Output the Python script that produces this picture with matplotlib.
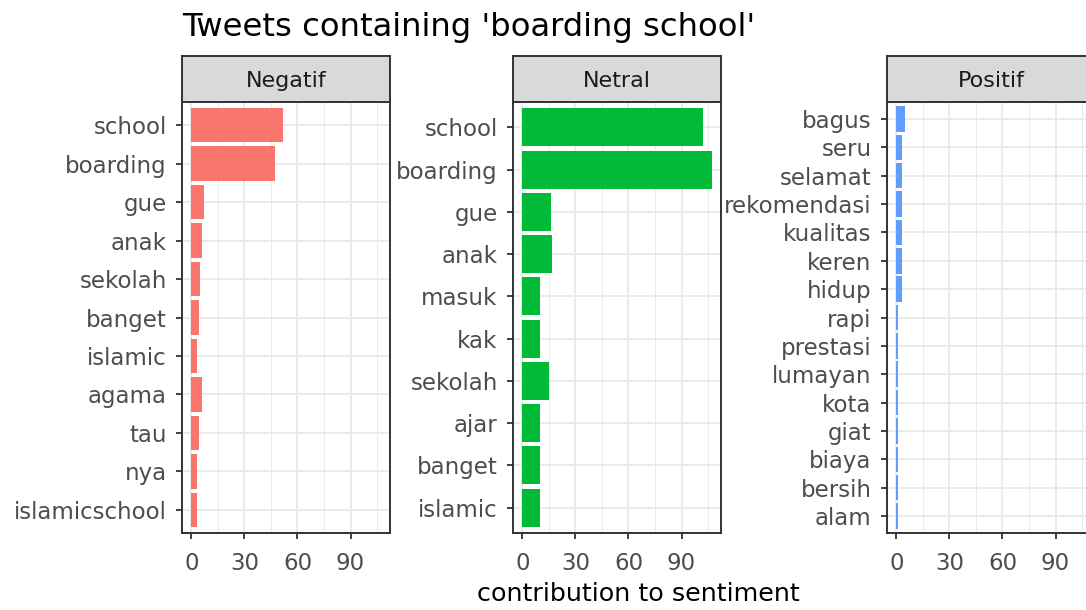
import numpy as np
import matplotlib
matplotlib.use("Agg")
import matplotlib.pyplot as plt
from matplotlib.ticker import MultipleLocator

# word counts per sentiment (top to bottom as shown)
neg_words = ["school", "boarding", "gue", "anak", "sekolah", "banget",
             "islamic", "agama", "tau", "nya", "islamicschool"]
neg_values = [52, 47, 7, 6, 5, 4, 3, 6, 4, 3, 3]

net_words = ["school", "boarding", "gue", "anak", "masuk", "kak",
             "sekolah", "ajar", "banget", "islamic"]
net_values = [102, 107, 16, 17, 10, 10, 15, 10, 10, 10]

pos_words = ["bagus", "seru", "selamat", "rekomendasi", "kualitas", "keren",
             "hidup", "rapi", "prestasi", "lumayan", "kota", "giat", "biaya",
             "bersih", "alam"]
pos_values = [5, 3, 3, 3, 3, 3, 3, 1, 1, 1, 1, 1, 1, 1, 1]

panels = [
    ("Negatif", neg_words, neg_values, "#F8766D"),
    ("Netral", net_words, net_values, "#00BA38"),
    ("Positif", pos_words, pos_values, "#619CFF"),
]
x_ticks = [0, 30, 60, 90]

W, H = 1086, 610
fig = plt.figure(figsize=(W / 100, H / 100), dpi=100)

# shared x scale with ggplot-like 5% expansion
xmax = max(max(v) for _, _, v, _ in panels)
xlim = (-0.05 * xmax, 1.05 * xmax)

panel_left = [182, 513, 887]
panel_w = 208
top, bottom = 102, 533
strip_top = 56

for (name, words, values, color), left in zip(panels, panel_left):
    ax = fig.add_axes([left / W, 1 - bottom / H, panel_w / W, (bottom - top) / H])
    n = len(words)
    ypos = np.arange(n)
    ax.barh(ypos, values, height=0.9, color=color, zorder=3)
    ax.set_ylim(n - 1 + 0.6, -0.6)
    ax.set_xlim(*xlim)
    ax.set_yticks(ypos)
    ax.set_yticklabels(words)
    ax.set_xticks(x_ticks)
    ax.xaxis.set_minor_locator(MultipleLocator(15))
    ax.grid(True, which="major", color="#EBEBEB", lw=1.4, zorder=0)
    ax.grid(True, which="minor", axis="x", color="#EBEBEB", lw=0.7, zorder=0)
    ax.set_axisbelow(True)
    for sp in ax.spines.values():
        sp.set_color("#333333")
        sp.set_linewidth(1.4)
    ax.tick_params(which="major", length=4.5, width=1.3, color="#333333",
                   labelcolor="#4D4D4D", labelsize=16.5)
    ax.tick_params(axis="y", pad=6.5)
    ax.tick_params(axis="x", pad=9)
    ax.tick_params(which="minor", length=0)

    # facet strip
    sax = fig.add_axes([left / W, 1 - top / H, panel_w / W, (top - strip_top) / H])
    sax.set_facecolor("#D9D9D9")
    sax.set_xticks([])
    sax.set_yticks([])
    for sp in sax.spines.values():
        sp.set_color("#333333")
        sp.set_linewidth(1.4)
    sax.text(0.5, 0.46, name, ha="center", va="center", fontsize=16,
             color="#1A1A1A", transform=sax.transAxes)

fig.text(182 / W, 1 - 36 / H, "Tweets containing 'boarding school'",
         fontsize=23.2, color="black", ha="left", va="baseline")
fig.text(638 / W, 1 - 601 / H, "contribution to sentiment",
         fontsize=18.3, color="black", ha="center", va="baseline")

fig.savefig("out.png", dpi=100)
